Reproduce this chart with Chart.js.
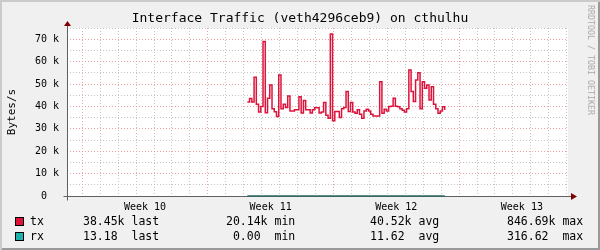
<!DOCTYPE html>
<html>
<head>
<meta charset="utf-8">
<script src="https://cdn.jsdelivr.net/npm/chart.js@4.4.1/dist/chart.umd.min.js"></script>
<style>
  html, body { margin: 0; padding: 0; }
  #graph {
    position: relative; width: 600px; height: 250px; overflow: hidden;
    background: #f0f0f0;
    box-shadow: inset 2px 2px 0 #cbcbcb, inset -2px -2px 0 #999;
    font-family: "DejaVu Sans Mono", monospace; color: #000;
  }
  #graph canvas { position: absolute; left: 0; top: 0; }
  .txt { position: absolute; white-space: pre; }
  #title { left: 0; width: 600px; top: 11px; text-align: center; font-size: 13px; line-height: 14px; }
  #ylabel { left: 11px; top: 112px; font-size: 11px; transform: translate(-50%, -50%) rotate(-90deg); }
  #mark { left: 591px; top: 60px; font-size: 8.3px; color: #aaa; transform: translate(-50%, -50%) rotate(90deg); }
  .row { font-size: 11.5px; line-height: 14px; }
  .box { position: absolute; width: 7px; height: 7px; border: 1px solid #000; }
</style>
</head>
<body>
<div id="graph">
  <canvas id="chart" width="600" height="250"></canvas>
  <div class="txt" id="title">Interface Traffic (veth4296ceb9) on cthulhu</div>
  <div class="txt" id="ylabel">Bytes/s</div>
  <div class="txt" id="mark">RRDTOOL / TOBI OETIKER</div>
  <div id="legend"></div>
</div>
<script>
// x axis is in days counted from the start of week 10
const weekLabels = ['Week 10', 'Week 11', 'Week 12', 'Week 13'];
const weekStartDays = [0, 7, 14, 21];
const X_MIN = -0.85;
const X_MAX = 27.07;

// samples every 3 hours, starting in week 11
const START_DAY = 9.2;
const STEP_DAYS = 0.125;

// tx in kBytes/s
const txKiloBytes = [
  42, 43.5, 42, 53, 41, 37.5, 40, 69, 37.2, 43.6,
  49.6, 39, 37.6, 35.5, 54, 38.9, 41, 39.5, 44.6, 37.9,
  38, 38.5, 38.5, 44.3, 37, 42.6, 38.5, 38.5, 37, 38.5,
  39.4, 39.4, 37, 37.5, 41.7, 36, 34.7, 72.3, 33.6, 37.7,
  37.7, 35.1, 39, 39.5, 46.6, 37.7, 41.7, 37.5, 36.9, 38.5,
  36.5, 34.7, 38, 38.7, 38, 36.5, 35.7, 35.7, 35.7, 51,
  36.9, 38.7, 38, 40, 40.1, 43.6, 40.1, 39.8, 39, 38.3,
  37.5, 39, 56.2, 46.6, 42.2, 51.8, 55, 39, 51, 48.1,
  49.6, 42.9, 48.8, 41, 39, 36.9, 38, 39.8, 38.4
];

// rx in Bytes/s
const rxBytes = [
  11, 12, 10, 14, 12, 9, 11, 15, 12, 10,
  13, 11, 9, 10, 14, 12, 11, 12, 13, 10,
  11, 12, 10, 13, 11, 12, 11, 10, 12, 11,
  12, 13, 10, 11, 12, 10, 9, 16, 11, 12,
  11, 10, 12, 11, 13, 12, 11, 10, 12, 11,
  10, 9, 11, 12, 11, 10, 11, 10, 12, 14,
  11, 12, 11, 12, 13, 12, 11, 12, 11, 12,
  11, 12, 15, 13, 12, 14, 13, 11, 13, 12,
  12, 11, 13, 12, 11, 12, 13, 12, 13.18
];

const legendRows = [
  { name: 'tx', color: '#dc143c', cols: ['38.45k last', '20.14k min', '40.52k avg', '846.69k max'] },
  { name: 'rx', color: '#20b2aa', cols: ['13.18  last', ' 0.00  min', '11.62  avg', '316.62  max'] }
];

const MAJOR_GRID = '#f0a0a0';
const MINOR_GRID = '#c4c4c4';
const GRID_DASH = [1, 2];

function toPoints(values, scale) {
  return values.map((v, i) => ({ x: START_DAY + i * STEP_DAYS, y: v * scale }));
}

// white canvas behind the plot
const plotBackground = {
  id: 'plotBackground',
  beforeDraw(chart) {
    const { ctx, chartArea: a } = chart;
    ctx.save();
    ctx.fillStyle = '#fff';
    ctx.fillRect(a.left, a.top, a.right - a.left, a.bottom - a.top);
    ctx.restore();
  }
};

// rrd style axes with arrow heads
const axisArrows = {
  id: 'axisArrows',
  beforeDatasetsDraw(chart) {
    const { ctx, chartArea: a } = chart;
    const x0 = Math.round(a.left) + 0.5;
    const y0 = Math.round(a.bottom) + 0.5;
    ctx.save();
    ctx.strokeStyle = '#606060';
    ctx.lineWidth = 1;
    ctx.beginPath();
    ctx.moveTo(x0, y0 + 4);
    ctx.lineTo(x0, a.top - 4);
    ctx.moveTo(x0 - 4, y0);
    ctx.lineTo(a.right + 3, y0);
    ctx.stroke();
    ctx.fillStyle = '#7f0000';
    ctx.beginPath();
    ctx.moveTo(x0, a.top - 7);
    ctx.lineTo(x0 - 3.5, a.top - 2);
    ctx.lineTo(x0 + 3.5, a.top - 2);
    ctx.closePath();
    ctx.fill();
    ctx.beginPath();
    ctx.moveTo(a.right + 9, y0);
    ctx.lineTo(a.right + 3, y0 - 3.5);
    ctx.lineTo(a.right + 3, y0 + 3.5);
    ctx.closePath();
    ctx.fill();
    ctx.restore();
  }
};

function buildLegend() {
  const legend = document.getElementById('legend');
  const colX = [83, 226, 370, 507];
  legendRows.forEach((row, r) => {
    const top = 214 + r * 15;
    const box = document.createElement('div');
    box.className = 'box';
    box.style.left = '15px';
    box.style.top = (top + 3) + 'px';
    box.style.background = row.color;
    legend.appendChild(box);
    const name = document.createElement('div');
    name.className = 'txt row';
    name.style.left = '30px';
    name.style.top = top + 'px';
    name.textContent = row.name;
    legend.appendChild(name);
    row.cols.forEach((text, c) => {
      const el = document.createElement('div');
      el.className = 'txt row';
      el.style.left = colX[c] + 'px';
      el.style.top = top + 'px';
      el.textContent = text;
      legend.appendChild(el);
    });
  });
}

Chart.defaults.font.family = '"DejaVu Sans Mono", monospace';

new Chart(document.getElementById('chart'), {
  type: 'line',
  data: {
    datasets: [
      {
        label: 'tx',
        data: toPoints(txKiloBytes, 1000),
        borderColor: '#dc143c',
        borderWidth: 1.5,
        stepped: true,
        pointRadius: 0,
        clip: 4
      },
      {
        label: 'rx',
        data: toPoints(rxBytes, 1),
        borderColor: '#2a6a60',
        borderWidth: 1.5,
        stepped: true,
        pointRadius: 0,
        clip: 4
      }
    ]
  },
  options: {
    responsive: false,
    animation: false,
    layout: { padding: { top: 28, right: 32, left: 0, bottom: 0 } },
    plugins: { legend: { display: false }, tooltip: { enabled: false } },
    scales: {
      x: {
        type: 'linear',
        min: X_MIN,
        max: X_MAX,
        afterBuildTicks: scale => {
          const ticks = [];
          for (let d = 0; d <= 27; d++) ticks.push({ value: d });
          weekStartDays.forEach(s => ticks.push({ value: s + 3.5 }));
          ticks.sort((a, b) => a.value - b.value);
          scale.ticks = ticks;
        },
        afterFit: scale => { scale.height = 54; },
        ticks: {
          autoSkip: false,
          maxRotation: 0,
          padding: 5,
          color: '#000',
          font: { size: 10 },
          callback: value => {
            const idx = weekStartDays.indexOf(value - 3.5);
            return idx >= 0 ? weekLabels[idx] : '';
          }
        },
        grid: {
          drawTicks: false,
          borderDash: GRID_DASH,
          color: ctx => {
            const v = ctx.tick ? ctx.tick.value : 0.5;
            if (!Number.isInteger(v)) return 'rgba(0,0,0,0)';
            return v % 7 === 0 ? MAJOR_GRID : MINOR_GRID;
          }
        },
        border: { display: false, dash: GRID_DASH }
      },
      y: {
        min: 0,
        max: 75000,
        afterFit: scale => { scale.width = 67; },
        ticks: {
          stepSize: 5000,
          autoSkip: false,
          padding: 8,
          color: '#000',
          font: { size: 10 },
          callback: value => {
            if (value % 10000 !== 0) return '';
            return value === 0 ? '0  ' : (value / 1000) + ' k';
          }
        },
        grid: {
          drawTicks: false,
          borderDash: GRID_DASH,
          color: ctx => {
            const v = ctx.tick ? ctx.tick.value : 5000;
            return v % 10000 === 0 ? MAJOR_GRID : MINOR_GRID;
          }
        },
        border: { display: false, dash: GRID_DASH }
      }
    }
  },
  plugins: [plotBackground, axisArrows]
});

buildLegend();
</script>
</body>
</html>
